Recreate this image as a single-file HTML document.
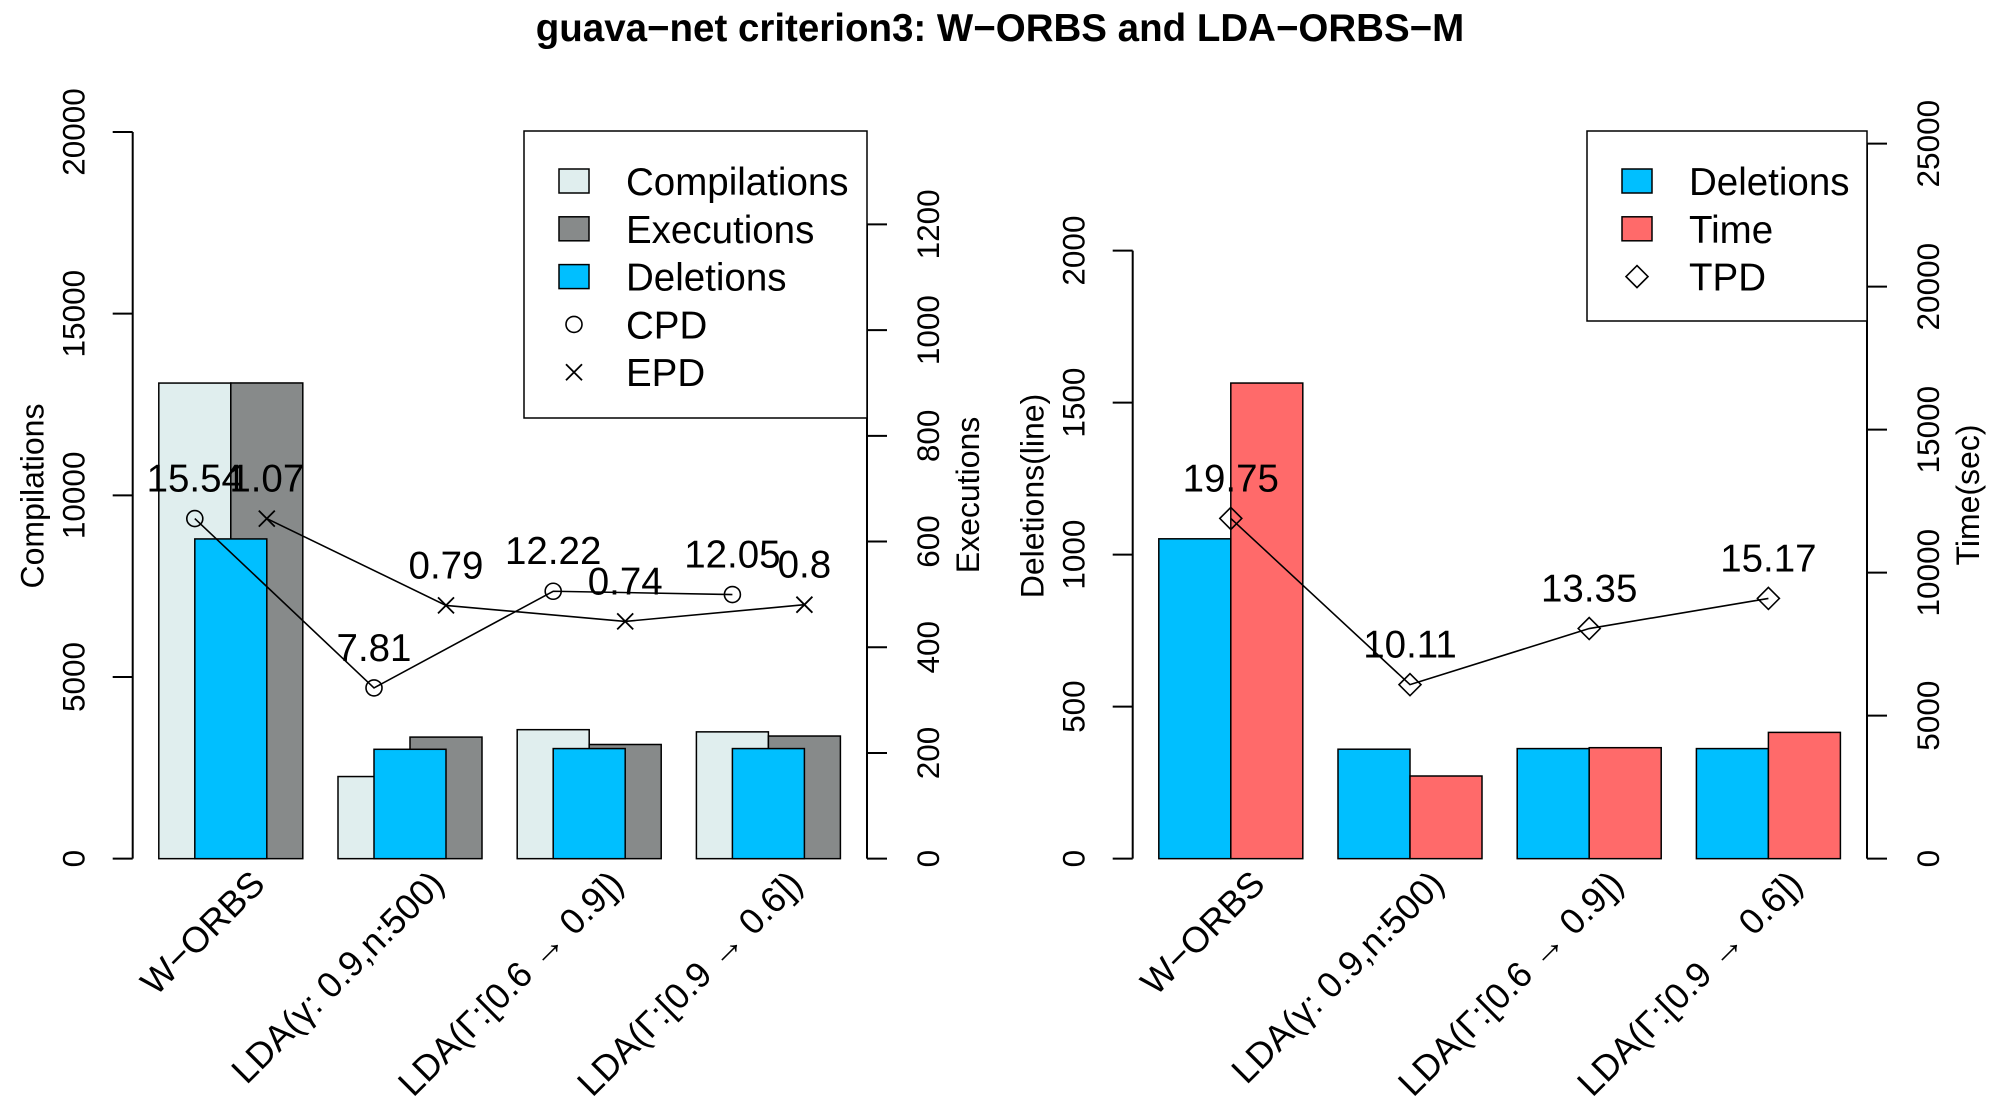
<!DOCTYPE html>
<html><head><meta charset="utf-8"><style>
html,body{margin:0;padding:0;background:#fff}
svg{display:block;font-family:"Liberation Sans",Arial,sans-serif}
</style></head><body>
<svg id="c" width="2000" height="1100" xmlns="http://www.w3.org/2000/svg">
<text x="1000" y="41" text-anchor="middle" font-size="38.5" font-weight="bold">guava−net criterion3: W−ORBS and LDA−ORBS−M</text>
<g id="L"></g>
<g id="R"></g>
</svg>
<script>
const categories = ["W−ORBS","LDA(γ: 0.9,n:500)","LDA(Γ:[0.6 → 0.9])","LDA(Γ:[0.9 → 0.6])"];
const compilations = [13090, 2260, 3550, 3490];
const executions = [900, 230, 216, 232];
const deletionsLeft = [8800, 3010, 3030, 3030];
const cpdPos = [9360, 4700, 7360, 7270];
const cpdLabels = ["15.54","7.81","12.22","12.05"];
const epdPos = [9360, 6970, 6530, 6990];
const epdLabels = ["1.07","0.79","0.74","0.8"];
const compTicks = [0,5000,10000,15000,20000];
const execTicks = [0,200,400,600,800,1000,1200];
const deletions = [1052, 360, 362, 362];
const timeSec = [16630, 2890, 3880, 4415];
const tpdPos = [11896, 6085, 8046, 9100];
const tpdLabels = ["19.75","10.11","13.35","15.17"];
const delTicks = [0,500,1000,1500,2000];
const timeTicks = [0,5000,10000,15000,20000,25000];

const NS="http://www.w3.org/2000/svg";
function mk(parent,tag,attrs,text){const e=document.createElementNS(NS,tag);for(const k in attrs)e.setAttribute(k,attrs[k]);if(text!==undefined)e.textContent=text;parent.appendChild(e);return e;}
const K=1.1;
const Y0=780.6*K;
const yComp=v=>Y0-v*(660.6*K/20000);
const yExec=v=>Y0-v*(96.1*K/200);
const yDel=v=>Y0-v*(138.2*K/500);
const yTime=v=>Y0-v*(130*K/5000);
const BW=72, GS=179.2;
const TF=31.5, LF=38.5;

function leftAxis(g,ox,ticks,sc,title,titleName,axName){
  const top=sc(ticks[ticks.length-1]);
  const ax=mk(g,'g',{});
  
  
  mk(ax,'line',{x1:ox,y1:sc(ticks[0]),x2:ox,y2:top,stroke:'#000','stroke-width':2});
  ticks.forEach(t=>{const y=sc(t);
    mk(ax,'line',{x1:ox-20,y1:y,x2:ox,y2:y,stroke:'#000','stroke-width':2});
    const tx=mk(ax,'text',{x:0,y:0,'font-size':TF,'text-anchor':'middle',transform:`translate(${ox-48},${y}) rotate(-90)`},String(t));
    
    
  });
  const tt=mk(g,'text',{x:0,y:0,'font-size':32,'text-anchor':'middle',transform:`translate(${ox-89},496) rotate(-90)`},title);
  
  
}
function rightAxis(g,ox,ticks,sc,title,titleName,axName){
  const ax=mk(g,'g',{});
  
  
  mk(ax,'line',{x1:ox,y1:sc(ticks[0]),x2:ox,y2:sc(ticks[ticks.length-1]),stroke:'#000','stroke-width':2});
  ticks.forEach(t=>{const y=sc(t);
    mk(ax,'line',{x1:ox,y1:y,x2:ox+20,y2:y,stroke:'#000','stroke-width':2});
    const tx=mk(ax,'text',{x:0,y:0,'font-size':TF,'text-anchor':'middle',transform:`translate(${ox+72},${y}) rotate(-90)`},String(t));
    
    
  });
  const tt=mk(g,'text',{x:0,y:0,'font-size':32,'text-anchor':'middle',transform:`translate(${ox+112},495) rotate(-90)`},title);
  
  
}
function bar(g,x,w,y,fill,name){
  const r=mk(g,'rect',{x:x,y:y,width:w,height:Y0-y,fill:fill,stroke:'#000','stroke-width':1.5});
  
  
}
function xLabels(g,base){
  categories.forEach((c,i)=>{
    const cx=base+GS*i+72+36;
    const t=mk(g,'text',{x:0,y:0,'font-size':36,'text-anchor':'end',transform:`translate(${cx},886) rotate(-45)`},c);
    
    
  });
}

// LEFT
const L=document.getElementById('L');
const lb=158.8;
categories.forEach((c,i)=>{
  const x=lb+GS*i;
  bar(L,x,BW,yComp(compilations[i]),'#E0EEEE','bar-compilations');
  bar(L,x+72,BW,yExec(executions[i]),'#878A8A','bar-executions');
  bar(L,x+36,BW,yComp(deletionsLeft[i]),'#00BFFF','bar-deletions');
});
leftAxis(L,132.7,compTicks,yComp,'Compilations','y-axis-title-compilations','y-axis-compilations');
rightAxis(L,867,execTicks,yExec,'Executions','y-axis-title-executions','y-axis-executions');
function series(g,xs,ys,labels,marker,name){
  const pl=mk(g,'polyline',{points:xs.map((x,i)=>x+','+ys[i]).join(' '),fill:'none',stroke:'#000','stroke-width':1.6});
  
  
  xs.forEach((x,i)=>{const y=ys[i];let m;
    if(marker==='o') m=mk(g,'circle',{cx:x,cy:y,r:8,fill:'none',stroke:'#000','stroke-width':1.6});
    else if(marker==='x') m=mk(g,'path',{d:`M${x-8},${y-8}L${x+8},${y+8}M${x-8},${y+8}L${x+8},${y-8}`,stroke:'#000','stroke-width':1.8});
    else m=mk(g,'path',{d:`M${x},${y-11}L${x+11},${y}L${x},${y+11}L${x-11},${y}Z`,fill:'none',stroke:'#000','stroke-width':1.6});
    
    
    const t=mk(g,'text',{x:x,y:y-27,'font-size':LF,'text-anchor':'middle'},labels[i]);
    
    
  });
}
series(L,categories.map((c,i)=>lb+GS*i+36),cpdPos.map(yComp),cpdLabels,'o','cpd');
series(L,categories.map((c,i)=>lb+GS*i+108),epdPos.map(yComp),epdLabels,'x','epd');
xLabels(L,lb);

function legend(g,x,y,w,h,items,sqx,tx){
  const lg=mk(g,'g',{});
  
  
  mk(lg,'rect',{x:x,y:y,width:w,height:h,fill:'#fff',stroke:'#000','stroke-width':1.5});
  items.forEach((it,i)=>{const cy=181+47.8*i;
    const e=mk(lg,'g',{});
    
    
    const X=sqx+15;
    if(it[1]==='o') mk(e,'circle',{cx:X,cy:cy,r:8,fill:'none',stroke:'#000','stroke-width':1.6});
    else if(it[1]==='x') mk(e,'path',{d:`M${X-8},${cy-8}L${X+8},${cy+8}M${X-8},${cy+8}L${X+8},${cy-8}`,stroke:'#000','stroke-width':1.8});
    else if(it[1]==='d') mk(e,'path',{d:`M${X},${cy-11}L${X+11},${cy}L${X},${cy+11}L${X-11},${cy}Z`,fill:'none',stroke:'#000','stroke-width':1.6});
    else mk(e,'rect',{x:sqx,y:cy-12,width:30,height:24,fill:it[1],stroke:'#000','stroke-width':1.5});
    mk(e,'text',{x:tx,y:cy+14,'font-size':LF},it[0]);
  });
}
legend(L,524,131,343,287,[["Compilations","#E0EEEE"],["Executions","#878A8A"],["Deletions","#00BFFF"],["CPD","o"],["EPD","x"]],559,626);

// RIGHT
const R=document.getElementById('R');
const rb=1158.8;
categories.forEach((c,i)=>{
  const x=rb+GS*i;
  bar(R,x,BW,yDel(deletions[i]),'#00BFFF','bar-deletions');
  bar(R,x+BW,BW,yTime(timeSec[i]),'#FF6A6A','bar-time');
});
leftAxis(R,1132.7,delTicks,yDel,'Deletions(line)','y-axis-title-deletions','y-axis-deletions');
rightAxis(R,1867,timeTicks,yTime,'Time(sec)','y-axis-title-time','y-axis-time');
series(R,categories.map((c,i)=>rb+GS*i+72),tpdPos.map(yTime),tpdLabels,'d','tpd');
xLabels(R,rb);
legend(R,1587,131,280,190,[["Deletions","#00BFFF"],["Time","#FF6A6A"],["TPD","d"]],1622,1689);
</script>
</body></html>
